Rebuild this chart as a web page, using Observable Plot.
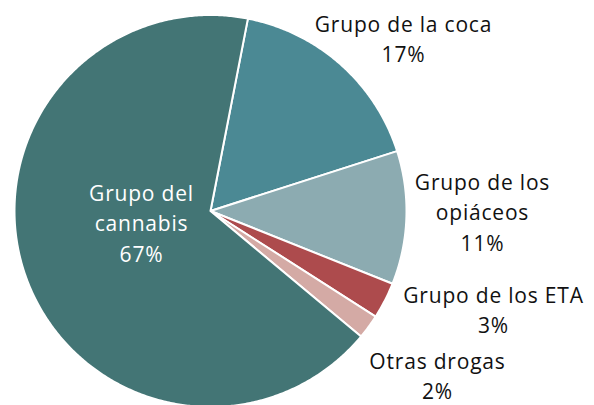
<!DOCTYPE html>
<html>
<head>
<meta charset="utf-8">
<script src="https://cdn.jsdelivr.net/npm/d3@7"></script>
<script src="https://cdn.jsdelivr.net/npm/@observablehq/plot@0.6"></script>
<style>
  html, body { margin: 0; padding: 0; background: #fff; }
  #chart svg { display: block; }
</style>
</head>
<body>
<div id="chart"></div>
<script>
// ---- data ----
const categories = ["Grupo de la coca", "Grupo de los opiáceos", "Grupo de los ETA", "Otras drogas", "Grupo del cannabis"];
const values = [17, 11, 3, 2, 67];
const labels = ["Grupo de la coca\n17%", "Grupo de los\nopiáceos\n11%", "Grupo de los ETA\n3%", "Otras drogas\n2%", "Grupo del\ncannabis\n67%"];
const colors = ["#4b8994", "#8cabb1", "#ad4b4d", "#d4aaa5", "#437575"];

// ---- layout ----
const W = 594, H = 405;
const cx = 210, cy = 210.5, R = 196;
const startDeg = 11; // clockwise from 12 o'clock
const labelPx = [[403, 37], [482, 210], [493, 308], [437, 374], [141, 221]];
const labelFill = ["#111", "#111", "#111", "#111", "#fff"];

const total = d3.sum(values);
const slices = [];
let acc = startDeg;
categories.forEach((c, i) => {
  const a0 = acc, a1 = acc + values[i] / total * 360;
  acc = a1;
  const pts = [{cat: c, x: 0, y: 0}];
  const n = Math.max(2, Math.ceil((a1 - a0) / 0.5));
  for (let k = 0; k <= n; k++) {
    const a = (a0 + (a1 - a0) * k / n) * Math.PI / 180;
    pts.push({cat: c, x: Math.sin(a), y: Math.cos(a)});
  }
  pts.push({cat: c, x: 0, y: 0});
  slices.push(...pts);
});

const labelData = categories.map((c, i) => ({
  cat: c,
  text: labels[i],
  x: (labelPx[i][0] - cx) / R,
  y: (cy - labelPx[i][1]) / R,
  fill: labelFill[i]
}));

const chart = Plot.plot({
  width: W, height: H,
  margin: 0,
  x: {domain: [-cx / R, (W - cx) / R], axis: null},
  y: {domain: [-(H - cy) / R, cy / R], axis: null},
  color: {domain: categories, range: colors},
  style: {fontFamily: "'Open Sans', sans-serif", background: "#fff"},
  marks: [
    Plot.line(slices, {x: "x", y: "y", z: "cat", fill: "cat", stroke: "#fff", strokeWidth: 2, strokeLinejoin: "round", curve: "linear"}),
    Plot.text(labelData, {x: "x", y: "y", text: "text", fill: d => d.fill, fontSize: 21, lineHeight: 1.45, textAnchor: "middle", lineAnchor: "middle"})
  ]
});
chart.querySelectorAll("text").forEach(t => t.setAttribute("letter-spacing", "0.8"));
document.getElementById("chart").appendChild(chart);
</script>
</body>
</html>
